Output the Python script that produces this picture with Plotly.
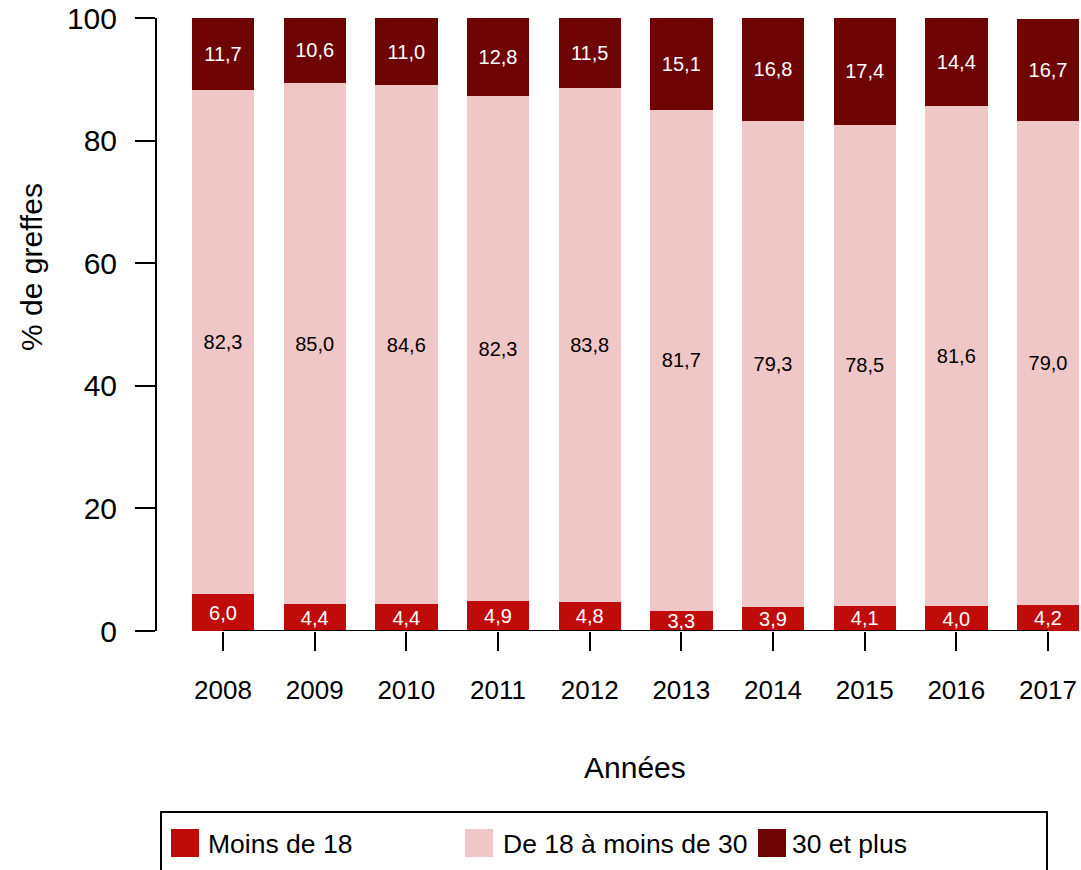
import plotly.graph_objects as go

years = ["2008", "2009", "2010", "2011", "2012", "2013", "2014", "2015", "2016", "2017"]
moins_18 = [6.0, 4.4, 4.4, 4.9, 4.8, 3.3, 3.9, 4.1, 4.0, 4.2]
de_18_30 = [82.3, 85.0, 84.6, 82.3, 83.8, 81.7, 79.3, 78.5, 81.6, 79.0]
plus_30 = [11.7, 10.6, 11.0, 12.8, 11.5, 15.1, 16.8, 17.4, 14.4, 16.7]
series_names = ["Moins de 18", "De 18 à moins de 30", "30 et plus"]
series_values = [moins_18, de_18_30, plus_30]
series_colors = ["#C00B0B", "#F0C7C7", "#6E0404"]
label_colors = ["white", "black", "white"]
y_ticks = [0, 20, 40, 60, 80, 100]

FONT = "Liberation Sans, Arial, sans-serif"
W, H = 1081, 870
L, R, T, B = 157, 0, 18, 239
PW, PH = W - L - R, H - T - B


def px2x(p):
    return (p - L) / PW


def px2y(p):
    return (H - B - p) / PH


fig = go.Figure()
for name, vals, col, lc in zip(series_names, series_values, series_colors, label_colors):
    fig.add_trace(go.Bar(
        x=list(range(len(years))), y=vals, name=name,
        marker=dict(color=col, line=dict(width=0)),
        width=0.68,
        texttemplate="%{y:.1f}", textposition="inside", insidetextanchor="middle",
        textangle=0, constraintext="none",
        textfont=dict(family=FONT, size=20, color=lc),
        showlegend=False, hoverinfo="skip",
    ))

# x axis line from first to last category (R style)
fig.add_shape(type="line", xref="x", yref="y", x0=0, x1=len(years) - 1, y0=0, y1=0,
              line=dict(color="black", width=2))

# axis titles
fig.add_annotation(text="% de greffes", xref="paper", yref="paper",
                   x=px2x(31), y=px2y(267), textangle=-90, showarrow=False,
                   font=dict(family=FONT, size=30, color="black"),
                   xanchor="center", yanchor="middle")
fig.add_annotation(text="Années", xref="paper", yref="paper",
                   x=px2x(635), y=px2y(767), showarrow=False,
                   font=dict(family=FONT, size=30, color="black"),
                   xanchor="center", yanchor="middle")

# manual legend
fig.add_shape(type="rect", xref="paper", yref="paper",
              x0=px2x(161), x1=px2x(1047), y0=px2y(812), y1=px2y(900),
              line=dict(color="black", width=2), fillcolor="rgba(0,0,0,0)")
legend_box_x = [171, 465, 758]
legend_text_x = [208, 503, 792]
for bx, tx, name, col in zip(legend_box_x, legend_text_x, series_names, series_colors):
    fig.add_shape(type="rect", xref="paper", yref="paper",
                  x0=px2x(bx), x1=px2x(bx + 28), y0=px2y(857), y1=px2y(829),
                  line=dict(width=0), fillcolor=col)
    fig.add_annotation(text=name, xref="paper", yref="paper",
                       x=px2x(tx - 2), y=px2y(844), showarrow=False,
                       xanchor="left", yanchor="middle",
                       font=dict(family=FONT, size=26.5, color="black"))

fig.update_layout(
    width=W, height=H,
    margin=dict(l=L, r=R, t=T, b=B, pad=0),
    barmode="stack", bargap=0,
    separators=", ",
    paper_bgcolor="white", plot_bgcolor="white",
    showlegend=False,
    font=dict(family=FONT, color="black"),
)
fig.update_xaxes(
    range=[-0.72, len(years) - 1 + 0.36],
    tickmode="array", tickvals=list(range(len(years))), ticktext=years,
    ticks="outside", ticklen=19, tickwidth=2, tickcolor="black",
    showline=False, showgrid=False, zeroline=False,
    tickfont=dict(family=FONT, size=26, color="black"),
    ticklabelstandoff=17, ticklabeloverflow="allow",
)
fig.update_yaxes(
    range=[0, 100], tickvals=y_ticks,
    ticks="outside", ticklen=20, tickwidth=2, tickcolor="black",
    showline=True, linecolor="black", linewidth=2,
    showgrid=False, zeroline=False,
    tickfont=dict(family=FONT, size=30, color="black"),
    ticklabelstandoff=12, ticklabeloverflow="allow",
)

fig.write_html(
    "out.html",
    config={"displayModeBar": False, "staticPlot": True},
    post_script="document.body.style.margin='0';document.body.style.overflow='hidden';",
)
